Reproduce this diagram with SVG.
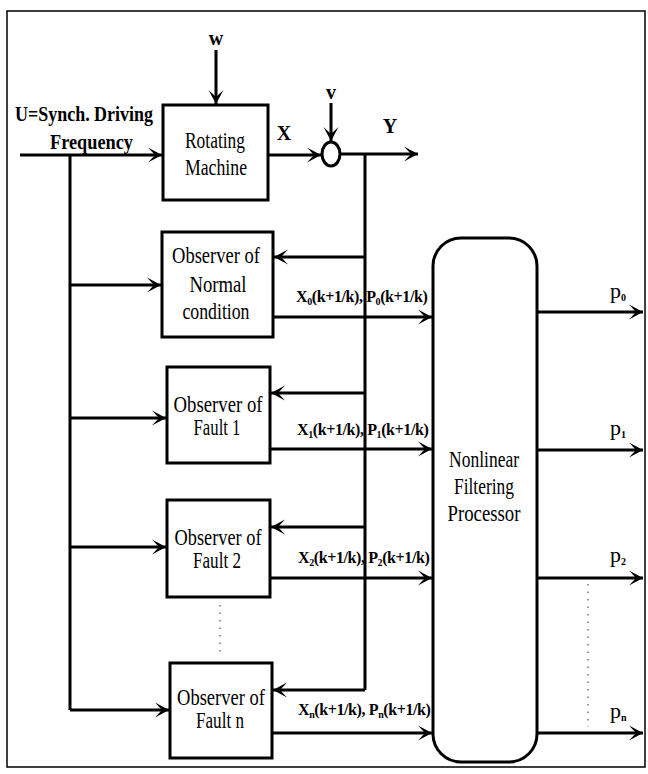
<svg xmlns="http://www.w3.org/2000/svg" width="648" height="774" viewBox="0 0 648 774">
<style>
.ln{stroke:#000;stroke-width:3;fill:none}
.bx{stroke:#000;stroke-width:3;fill:#fff}
.ar{marker-end:url(#ah)}
.dot{stroke:#555;stroke-width:1.2;stroke-dasharray:1.5 6;fill:none}
text{font-family:"Liberation Serif","Times New Roman",serif;fill:#000}
.n{font-size:23px;text-anchor:middle}
.b{font-size:20px;font-weight:bold}
.s{font-size:16px;font-weight:bold;letter-spacing:-0.4px}
.sub{font-size:10px}
.p{font-size:22px}
</style>
<defs>
<marker id="ah" markerUnits="userSpaceOnUse" markerWidth="20" markerHeight="20" refX="14" refY="8" orient="auto" overflow="visible">
<path d="M14,8 L0,0.5 L7,8 L0,15.5 Z" fill="#000"/>
</marker>
</defs>
<rect x="7" y="11" width="638" height="756" fill="none" stroke="#000" stroke-width="1.5"/>

<g id="connectors">
<path class="ln ar" d="M20,155 H162"/>
<path class="ln" d="M70,155 V710"/>
<path class="ln ar" d="M70,285 H161"/>
<path class="ln ar" d="M70,418 H166"/>
<path class="ln ar" d="M70,547 H166"/>
<path class="ln ar" d="M70,710 H169"/>
<path class="ln ar" d="M216,50 V104"/>
<path class="ln ar" d="M268,155 H321"/>
<path class="ln ar" d="M331,103 V141"/>
<path class="ln ar" d="M340,154 H418"/>
<path class="ln" d="M365,154 V690"/>
<path class="ln ar" d="M365,257 H274"/>
<path class="ln ar" d="M365,393 H271"/>
<path class="ln ar" d="M365,527 H271"/>
<path class="ln ar" d="M365,690 H273"/>
<path class="ln ar" d="M273,317 H432"/>
<path class="ln ar" d="M270,449 H432"/>
<path class="ln ar" d="M270,578 H432"/>
<path class="ln ar" d="M272,733 H432"/>
<path class="ln ar" d="M537,312 H643"/>
<path class="ln ar" d="M537,450 H643"/>
<path class="ln ar" d="M537,578 H643"/>
<path class="ln ar" d="M537,733 H643"/>
<path class="dot" d="M220,605 V655"/>
<path class="dot" d="M588,584 V727"/>
</g>

<text class="b" x="15" y="121" textLength="138" lengthAdjust="spacingAndGlyphs">U=Synch. Driving</text>
<text class="b" x="50" y="149" textLength="83" lengthAdjust="spacingAndGlyphs">Frequency</text>
<text class="b" x="216" y="45" text-anchor="middle" font-size="15">w</text>
<text class="b" x="331" y="99" text-anchor="middle" font-size="15">v</text>
<text class="b" x="284" y="140" text-anchor="middle">X</text>
<text class="b" x="390" y="133" text-anchor="middle">Y</text>

<g id="rotating-machine">
<rect class="bx" x="163" y="105" width="105" height="95"/>
<text class="n" x="215" y="148" textLength="60" lengthAdjust="spacingAndGlyphs">Rotating</text>
<text class="n" x="216" y="175" textLength="62" lengthAdjust="spacingAndGlyphs">Machine</text>
</g>

<g id="sum">
<ellipse cx="331" cy="154" rx="9" ry="12" fill="#fff" stroke="#000" stroke-width="3"/>
</g>

<g id="obs-normal">
<rect class="bx" x="162" y="232" width="111" height="105"/>
<text class="n" x="216" y="263" textLength="88" lengthAdjust="spacingAndGlyphs">Observer of</text>
<text class="n" x="218" y="292" textLength="57" lengthAdjust="spacingAndGlyphs">Normal</text>
<text class="n" x="216" y="319" textLength="67" lengthAdjust="spacingAndGlyphs">condition</text>
</g>
<text class="s" x="296" y="302">X<tspan class="sub" dy="3">0</tspan><tspan dy="-3">(k+1/k), P</tspan><tspan class="sub" dy="3">0</tspan><tspan dy="-3">(k+1/k)</tspan></text>

<g id="obs-fault1">
<rect class="bx" x="167" y="367" width="103" height="96"/>
<text class="n" x="218" y="412" textLength="89" lengthAdjust="spacingAndGlyphs">Observer of</text>
<text class="n" x="217" y="435" textLength="47" lengthAdjust="spacingAndGlyphs">Fault 1</text>
</g>
<text class="s" x="297" y="435">X<tspan class="sub" dy="3">1</tspan><tspan dy="-3">(k+1/k), P</tspan><tspan class="sub" dy="3">1</tspan><tspan dy="-3">(k+1/k)</tspan></text>

<g id="obs-fault2">
<rect class="bx" x="167" y="500" width="103" height="97"/>
<text class="n" x="218" y="545" textLength="87" lengthAdjust="spacingAndGlyphs">Observer of</text>
<text class="n" x="217" y="568" textLength="48" lengthAdjust="spacingAndGlyphs">Fault 2</text>
</g>
<text class="s" x="298" y="563">X<tspan class="sub" dy="3">2</tspan><tspan dy="-3">(k+1/k), P</tspan><tspan class="sub" dy="3">2</tspan><tspan dy="-3">(k+1/k)</tspan></text>

<g id="obs-faultn">
<rect class="bx" x="170" y="663" width="102" height="95"/>
<text class="n" x="221" y="705" textLength="88" lengthAdjust="spacingAndGlyphs">Observer of</text>
<text class="n" x="220" y="728" textLength="48" lengthAdjust="spacingAndGlyphs">Fault n</text>
</g>
<text class="s" x="298" y="715">X<tspan class="sub" dy="3">n</tspan><tspan dy="-3">(k+1/k), P</tspan><tspan class="sub" dy="3">n</tspan><tspan dy="-3">(k+1/k)</tspan></text>

<g id="processor">
<rect class="bx" x="433" y="238" width="104" height="524" rx="28" ry="28"/>
<text class="n" x="484" y="467" textLength="70" lengthAdjust="spacingAndGlyphs">Nonlinear</text>
<text class="n" x="484" y="494" textLength="60" lengthAdjust="spacingAndGlyphs">Filtering</text>
<text class="n" x="484" y="521" textLength="73" lengthAdjust="spacingAndGlyphs">Processor</text>
</g>

<text class="p" x="610" y="298">p<tspan class="sub" dy="3" font-weight="bold">0</tspan></text>
<text class="p" x="610" y="435">p<tspan class="sub" dy="3" font-weight="bold">1</tspan></text>
<text class="p" x="610" y="562">p<tspan class="sub" dy="3" font-weight="bold">2</tspan></text>
<text class="p" x="610" y="718">p<tspan class="sub" dy="3" font-weight="bold">n</tspan></text>
</svg>
